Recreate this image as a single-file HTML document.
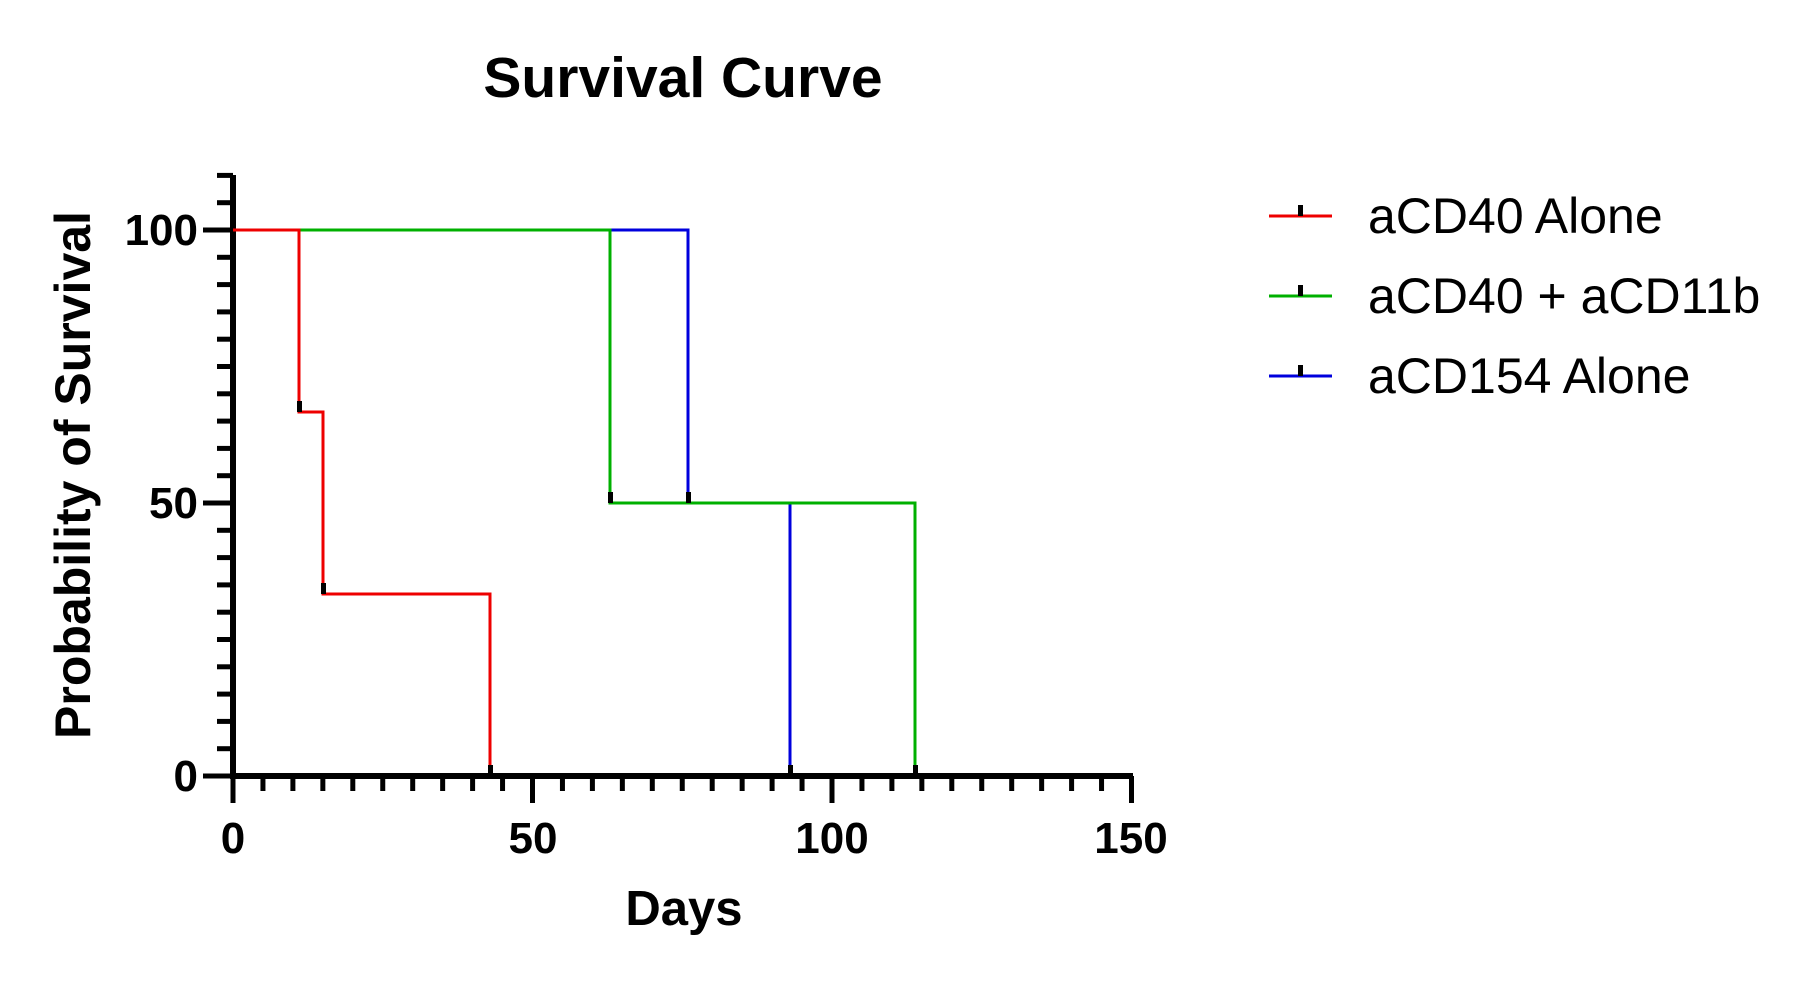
<!DOCTYPE html>
<html><head><style>body{margin:0;background:#fff}</style></head><body>
<svg width="1804" height="976" xmlns="http://www.w3.org/2000/svg" font-family="Liberation Sans, Arial, sans-serif">
<text x="683" y="97" font-size="57" font-weight="bold" text-anchor="middle">Survival Curve</text>
<g stroke="#000" stroke-width="6">
<line x1="233" y1="175" x2="233" y2="779"/>
<line x1="230" y1="776" x2="1133" y2="776"/>
</g>
<g stroke="#000" stroke-width="5" id="yt"></g>
<g stroke="#000" stroke-width="5" id="xt"></g>
<g fill="none" stroke-width="3">
<polyline stroke="#0000dd" points="233,230 688,230 688,503 790,503 790,776"/>
<polyline stroke="#00b000" points="233,230 610,230 610,503 915,503 915,776"/>
<polyline stroke="#ee0000" points="233,230 299,230 299,412 323,412 323,594 490,594 490,776"/>
</g>
<g fill="#000">
<rect x="297" y="401" width="5" height="11"/><rect x="321" y="583" width="5" height="11"/><rect x="488" y="765" width="5" height="11"/>
<rect x="608" y="492" width="5" height="11"/><rect x="686" y="492" width="5" height="11"/><rect x="788" y="765" width="5" height="11"/><rect x="913" y="765" width="5" height="11"/>
</g>
<g font-size="44" font-weight="bold" text-anchor="end">
<text x="198" y="245">100</text><text x="198" y="518">50</text><text x="198" y="791">0</text>
</g>
<g font-size="44" font-weight="bold" text-anchor="middle">
<text x="233" y="853">0</text><text x="533" y="853">50</text><text x="832" y="853">100</text><text x="1131" y="853">150</text>
</g>
<text x="684" y="925" font-size="49" font-weight="bold" text-anchor="middle">Days</text>
<text transform="translate(90,475) rotate(-90)" font-size="50" font-weight="bold" text-anchor="middle">Probability of Survival</text>
<g stroke-width="3">
<line x1="1269" y1="216" x2="1332" y2="216" stroke="#ee0000"/>
<line x1="1269" y1="296" x2="1332" y2="296" stroke="#00b000"/>
<line x1="1269" y1="376" x2="1332" y2="376" stroke="#0000dd"/>
</g>
<g fill="#000"><rect x="1298" y="205" width="5" height="11"/><rect x="1298" y="285" width="5" height="11"/><rect x="1298" y="365" width="5" height="11"/></g>
<g font-size="50">
<text x="1368" y="233">aCD40 Alone</text><text x="1368" y="313">aCD40 + aCD11b</text><text x="1368" y="393">aCD154 Alone</text>
</g>
<script>
var ns="http://www.w3.org/2000/svg",yt=document.getElementById('yt'),xt=document.getElementById('xt');
for(var v=0;v<=110;v+=5){var y=776-v*5.46,l=document.createElementNS(ns,'line');l.setAttribute('x1',v%50==0?203:217);l.setAttribute('x2',233);l.setAttribute('y1',y);l.setAttribute('y2',y);yt.appendChild(l);}
for(var d=0;d<=150;d+=5){var x=233+d*5.99,l=document.createElementNS(ns,'line');l.setAttribute('x1',x);l.setAttribute('x2',x);l.setAttribute('y1',776);l.setAttribute('y2',d%50==0?803:791);xt.appendChild(l);}
</script>
</svg>
</body></html>
